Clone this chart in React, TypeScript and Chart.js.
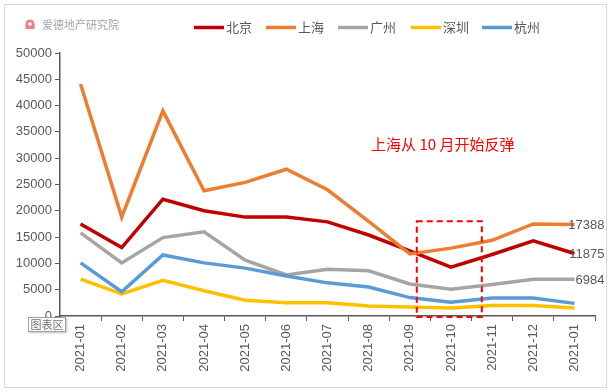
import React, { useEffect, useRef } from "react";
import { Chart, registerables } from "chart.js";

Chart.register(...registerables);

const categories = [
  "2021-01", "2021-02", "2021-03", "2021-04", "2021-05", "2021-06", "2021-07",
  "2021-08", "2021-09", "2021-10", "2021-11", "2021-12", "2021-01",
];
const beijing = [17500, 13000, 22200, 20000, 18800, 18800, 17900, 15400, 12400, 9300, 11700, 14300, 11875];
const shanghai = [44100, 18800, 39000, 23800, 25400, 27900, 24000, 18000, 11800, 12900, 14400, 17500, 17388];
const guangzhou = [15800, 10100, 14900, 16000, 10600, 7800, 8900, 8600, 6100, 5100, 6000, 7000, 6984];
const shenzhen = [7000, 4200, 6800, 4800, 3000, 2500, 2500, 1900, 1700, 1500, 2000, 2000, 1500];
const hangzhou = [10100, 4600, 11600, 10100, 9100, 7600, 6300, 5500, 3500, 2600, 3400, 3400, 2400];
const seriesNames = ["北京", "上海", "广州", "深圳", "杭州"];
const seriesColors = ["#C00000", "#ED7D31", "#A5A5A5", "#FFC000", "#5B9BD5"];
const endLabelSeries = [1, 0, 2];
const annotationText = "上海从 10 月开始反弹";
const logoText = "爱德地产研究院";

const FONT = "'Liberation Sans', 'Noto Sans CJK SC', sans-serif";
const CJK = "'Noto Sans CJK SC', 'Liberation Sans', sans-serif";

export default function App() {
  const ref = useRef<HTMLCanvasElement | null>(null);
  useEffect(() => {
    if (!ref.current) return;
    const allData = [beijing, shanghai, guangzhou, shenzhen, hangzhou];
    const overlay = {
      id: "overlay",
      beforeDraw(chart: any) {
        const ctx = chart.ctx;
        ctx.save();
        ctx.fillStyle = "#ffffff";
        ctx.fillRect(0, 0, chart.width, chart.height);
        ctx.strokeStyle = "#D9D9D9";
        ctx.lineWidth = 1;
        ctx.strokeRect(4.5, 4.5, 602, 383);
        ctx.restore();
      },
      afterDraw(chart: any) {
        const ctx = chart.ctx;
        const xs = chart.scales.x;
        const ys = chart.scales.y;
        ctx.save();
        // logo
        ctx.fillStyle = "#F08080";
        ctx.beginPath();
        ctx.arc(30, 24, 4.5, 0, Math.PI * 2);
        ctx.fill();
        ctx.fillRect(25.5, 24, 9, 5);
        ctx.fillStyle = "#ffffff";
        ctx.beginPath();
        ctx.arc(30, 24, 1.8, 0, Math.PI * 2);
        ctx.fill();
        ctx.fillStyle = "#A6A6A6";
        ctx.font = "11px " + CJK;
        ctx.textBaseline = "middle";
        ctx.textAlign = "left";
        ctx.fillText(logoText, 42, 25);
        // legend
        const legendX = [194, 266, 338, 411, 482];
        ctx.font = "13px " + CJK;
        for (let i = 0; i < seriesNames.length; i++) {
          ctx.strokeStyle = seriesColors[i];
          ctx.lineWidth = 3.5;
          ctx.beginPath();
          ctx.moveTo(legendX[i], 27.5);
          ctx.lineTo(legendX[i] + 30, 27.5);
          ctx.stroke();
          ctx.fillStyle = "#595959";
          ctx.fillText(seriesNames[i], legendX[i] + 32, 27);
        }
        // dashed box
        const left = xs.getPixelForValue(8.17);
        const right = xs.getPixelForValue(9.75);
        const top = ys.getPixelForValue(18000);
        const bottom = ys.getPixelForValue(0) + 1;
        ctx.strokeStyle = "#FF0000";
        ctx.lineWidth = 2;
        ctx.setLineDash([6, 4]);
        ctx.strokeRect(left, top, right - left, bottom - top);
        ctx.setLineDash([]);
        // annotation
        ctx.fillStyle = "#FF0000";
        ctx.font = "15px " + CJK;
        ctx.textAlign = "center";
        ctx.fillText(annotationText, xs.getPixelForValue(8.8), ys.getPixelForValue(32700));
        // end labels
        ctx.fillStyle = "#595959";
        ctx.font = "13px " + FONT;
        ctx.textAlign = "right";
        const last = categories.length - 1;
        for (const si of endLabelSeries) {
          const v = allData[si][last];
          ctx.fillText(String(v), xs.getPixelForValue(last) + 30, ys.getPixelForValue(v) + 1);
        }
        // 图表区 tooltip box
        ctx.shadowColor = "rgba(0,0,0,0.25)";
        ctx.shadowBlur = 2;
        ctx.shadowOffsetX = 1;
        ctx.shadowOffsetY = 1;
        ctx.fillStyle = "#ffffff";
        ctx.fillRect(28, 317, 38, 15);
        ctx.shadowColor = "transparent";
        ctx.strokeStyle = "#A0A0A0";
        ctx.lineWidth = 1;
        ctx.strokeRect(28.5, 317.5, 37, 14);
        ctx.fillStyle = "#707070";
        ctx.font = "11px " + CJK;
        ctx.textAlign = "center";
        ctx.fillText("图表区", 47, 325);
        ctx.restore();
      },
    };
    const chart = new Chart(ref.current, {
      type: "line",
      data: {
        labels: categories,
        datasets: allData.map((d, i) => ({
          label: seriesNames[i],
          data: d,
          borderColor: seriesColors[i],
          backgroundColor: seriesColors[i],
          borderWidth: 3.5,
          pointRadius: 0,
          tension: 0,
          order: -i,
        })),
      },
      options: {
        responsive: false,
        animation: false,
        events: [],
        layout: { padding: { left: 0, right: 17, top: 53, bottom: 6 } },
        plugins: {
          legend: { display: false },
          tooltip: { enabled: false },
        },
        scales: {
          x: {
            offset: true,
            afterFit(s: any) { s.height = 70; },
            grid: {
              offset: true,
              drawOnChartArea: false,
              drawTicks: true,
              tickLength: 5,
              color: "#595959",
            },
            border: { color: "#595959", width: 1.5 },
            ticks: {
              maxRotation: 90,
              minRotation: 90,
              autoSkip: false,
              padding: 3,
              color: "#595959",
              font: { family: FONT, size: 13 },
            },
          },
          y: {
            min: 0,
            max: 50000,
            afterFit(s: any) { s.width = 60; },
            grid: {
              drawOnChartArea: false,
              drawTicks: true,
              tickLength: 5,
              color: "#595959",
            },
            border: { color: "#595959", width: 1.5 },
            ticks: {
              stepSize: 5000,
              padding: 3,
              color: "#595959",
              font: { family: FONT, size: 13 },
              callback: (v: any) => String(v),
            },
          },
        },
      },
      plugins: [overlay],
    });
    return () => chart.destroy();
  }, []);
  return (
    <div style={{ position: "fixed", left: 0, top: 0, width: 612, height: 392, background: "#fff" }}>
      <canvas ref={ref} width={612} height={392} style={{ width: 612, height: 392 }} />
    </div>
  );
}
